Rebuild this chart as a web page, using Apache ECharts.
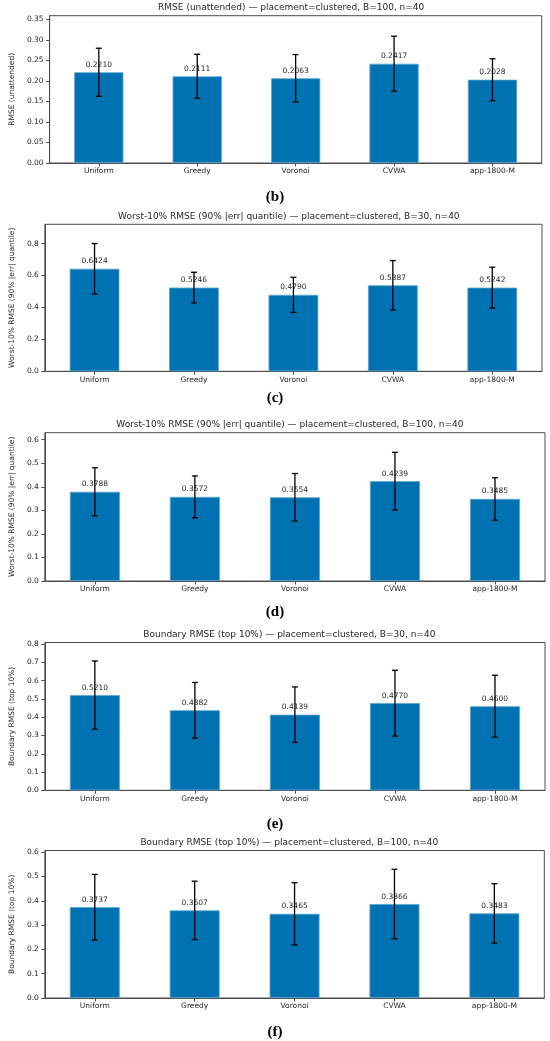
<!doctype html>
<html lang="en">
<head>
    <meta charset="UTF-8">
    <title>RMSE placement=clustered</title>
    <script src="https://cdn.jsdelivr.net/npm/echarts@6/dist/echarts.min.js"></script>
    <style>
        html, body { margin: 0; padding: 0; background: #fff; }
        #main { width: 550px; height: 1041px; }
    </style>
</head>
<body>
<div id="main"></div>
<script>
    // categories shared by all panels
    var methods = ['Uniform', 'Greedy', 'Voronoi', 'CVWA', 'app-1800-M'];

    // panel titles / y axis names / captions
    var titles = [
        'RMSE (unattended) — placement=clustered, B=100, n=40',
        'Worst-10% RMSE (90% |err| quantile) — placement=clustered, B=30, n=40',
        'Worst-10% RMSE (90% |err| quantile) — placement=clustered, B=100, n=40',
        'Boundary RMSE (top 10%) — placement=clustered, B=30, n=40',
        'Boundary RMSE (top 10%) — placement=clustered, B=100, n=40'
    ];
    var yNames = [
        'RMSE (unattended)',
        'Worst-10% RMSE (90% |err| quantile)',
        'Worst-10% RMSE (90% |err| quantile)',
        'Boundary RMSE (top 10%)',
        'Boundary RMSE (top 10%)'
    ];
    var captions = ['(b)', '(c)', '(d)', '(e)', '(f)'];

    // mean values (bar heights)
    var meanB = [0.2210, 0.2111, 0.2063, 0.2417, 0.2028];
    var meanC = [0.6424, 0.5246, 0.4790, 0.5387, 0.5242];
    var meanD = [0.3788, 0.3572, 0.3554, 0.4239, 0.3485];
    var meanE = [0.5210, 0.4382, 0.4139, 0.4770, 0.4600];
    var meanF = [0.3737, 0.3607, 0.3465, 0.3866, 0.3483];

    // error bar half widths
    var errB = [0.0585, 0.0536, 0.0577, 0.0670, 0.0510];
    var errC = [0.158, 0.096, 0.110, 0.155, 0.128];
    var errD = [0.102, 0.089, 0.101, 0.1225, 0.090];
    var errE = [0.187, 0.152, 0.152, 0.180, 0.170];
    var errF = [0.135, 0.120, 0.128, 0.143, 0.122];

    // y tick labels
    var ticksB = [0, 0.05, 0.10, 0.15, 0.20, 0.25, 0.30, 0.35];
    var ticksC = [0, 0.2, 0.4, 0.6, 0.8];
    var ticksD = [0, 0.1, 0.2, 0.3, 0.4, 0.5, 0.6];
    var ticksE = [0, 0.1, 0.2, 0.3, 0.4, 0.5, 0.6, 0.7, 0.8];
    var ticksF = [0, 0.1, 0.2, 0.3, 0.4, 0.5, 0.6];
    var yMax = [0.3587, 0.921, 0.6297, 0.809, 0.607];

    var means = [meanB, meanC, meanD, meanE, meanF];
    var errs = [errB, errC, errD, errE, errF];
    var ticks = [ticksB, ticksC, ticksD, ticksE, ticksF];
    var tickDigits = [2, 1, 1, 1, 1];

    // plot box layout (px)
    var boxes = [
        {left: 40.7, top: 15.7, width: 501, height: 147.3},
        {left: 35.7, top: 224.3, width: 506.3, height: 147},
        {left: 34.7, top: 432.7, width: 510.3, height: 148.3},
        {left: 33.7, top: 642.5, width: 511.3, height: 147.8},
        {left: 34.3, top: 850.5, width: 510, height: 147.5}
    ];
    var nameGaps = [25, 20, 20, 20, 20.5];
    var captionY = [197, 397.7, 611.7, 824, 1031.7];

    var font = 'DejaVu Sans';
    var ink = '#262626';
    var frame = '#4d4d4d';

    var grids = [], xAxes = [], yAxes = [], series = [], graphics = [];

    for (var i = 0; i < 5; i++) {
        var b = boxes[i];
        grids.push({
            left: b.left, top: b.top, width: b.width, height: b.height,
            show: true, borderColor: frame, borderWidth: 1, backgroundColor: '#fff'
        });
        xAxes.push({
            type: 'category', gridIndex: i, data: methods,
            boundaryGap: true,
            axisLine: {lineStyle: {color: frame, width: 1}},
            axisTick: {show: true, alignWithLabel: true, length: 3.5, lineStyle: {color: frame}},
            axisLabel: {color: ink, fontFamily: font, fontSize: 7.5, margin: 4.5}
        });
        (function (digits, tk) {
            yAxes.push({
                type: 'value', gridIndex: i, min: 0, max: yMax[i],
                splitLine: {show: false},
                axisLine: {show: true, lineStyle: {color: frame, width: 1}},
                axisTick: {show: true, length: 3.5, lineStyle: {color: frame}, customValues: tk},
                axisLabel: {
                    color: ink, fontFamily: font, fontSize: 7.5, margin: 6,
                    customValues: tk,
                    formatter: function (v) { return v.toFixed(digits); }
                },
                name: yNames[i], nameLocation: 'middle', nameGap: nameGaps[i],
                nameTextStyle: {color: ink, fontFamily: font, fontSize: 7.5}
            });
        })(tickDigits[i], ticks[i]);

        series.push({
            type: 'bar', xAxisIndex: i, yAxisIndex: i,
            data: means[i], barWidth: '50%', z: 2,
            itemStyle: {color: '#0072b2', borderColor: '#5aa6d6', borderWidth: 0.8},
            label: {
                show: true, position: 'top', distance: 3.5,
                color: ink, fontFamily: font, fontSize: 7.5,
                formatter: function (p) { return p.value.toFixed(4); }
            }
        });

        var errData = means[i].map(function (m, k) { return [k, m, errs[i][k]]; });
        series.push({
            type: 'custom', xAxisIndex: i, yAxisIndex: i, z: 5,
            data: errData,
            renderItem: function (params, api) {
                var x = api.value(0), m = api.value(1), e = api.value(2);
                var hi = api.coord([x, m + e]);
                var lo = api.coord([x, m - e]);
                var cap = 3;
                var st = {stroke: '#000', lineWidth: 1.3};
                return {
                    type: 'group',
                    children: [
                        {type: 'line', shape: {x1: hi[0], y1: hi[1], x2: lo[0], y2: lo[1]}, style: st},
                        {type: 'line', shape: {x1: hi[0] - cap, y1: hi[1], x2: hi[0] + cap, y2: hi[1]}, style: st},
                        {type: 'line', shape: {x1: lo[0] - cap, y1: lo[1], x2: lo[0] + cap, y2: lo[1]}, style: st}
                    ]
                };
            }
        });

        // panel title above the plot box
        graphics.push({
            type: 'text', left: null,
            x: b.left + b.width / 2, y: b.top - 7.6,
            style: {
                text: titles[i], fill: ink, font: '9px "DejaVu Sans"',
                align: 'center', verticalAlign: 'middle',
                textAlign: 'center', textVerticalAlign: 'middle'
            }
        });
        // sub figure caption
        graphics.push({
            type: 'text',
            x: 275, y: captionY[i],
            style: {
                text: captions[i], fill: '#000', font: 'bold 15px "Liberation Serif"',
                align: 'center', verticalAlign: 'middle',
                textAlign: 'center', textVerticalAlign: 'middle'
            }
        });
    }

    var myChart = echarts.init(document.getElementById('main'), null, {renderer: 'canvas'});
    var option = {
        backgroundColor: '#fff',
        animation: false,
        grid: grids,
        xAxis: xAxes,
        yAxis: yAxes,
        series: series,
        graphic: graphics
    };
    myChart.setOption(option);
</script>
</body>
</html>
